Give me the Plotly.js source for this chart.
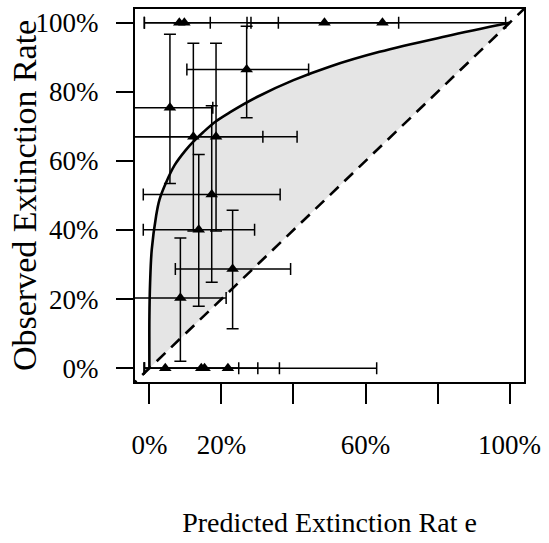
<!DOCTYPE html>
<html>
<head>
<meta charset="utf-8">
<script src="https://cdn.plot.ly/plotly-3.0.1.min.js"></script>
<style>
  html, body { margin: 0; padding: 0; background: #ffffff; }
  #chart { width: 549px; height: 543px; }
</style>
</head>
<body>
<div id="chart"></div>
<script>
// Fitted calibration curve, predicted vs observed extinction rate (percent)
const curveX = [0, 0, 0.19, 0.65, 1.85, 2.8, 4.6, 7.0, 10.2, 12.0, 15.0, 18.5, 22.2, 30, 40, 50, 63.9, 82.4, 100];
const curveY = [0, 15, 24.7, 34.3, 44.0, 48.8, 53.7, 58.8, 63.3, 65.4, 68.4, 71.5, 74.0, 78.6, 83.4, 87.3, 91.6, 96.1, 100];

// Groups: predicted rate with its interval, observed rate with its interval (percent)
const predicted   = [8.3, 9.7, 48.6, 64.7, 4.4, 14.4, 15.3, 21.8, 5.7, 12.2, 18.5, 27.0, 17.3, 13.7, 23.1, 8.6];
const predictedLo = [-1.4, -1.4, 27.1, 28.2, -1.4, -1.4, -1.4, -1.4, -8, -8, -8, 10.4, -1.7, -1.7, 7.2, -8];
const predictedHi = [16.9, 35.8, 69.2, 98.9, 24.8, 30.1, 36.1, 63.1, 17.6, 31.5, 41.0, 44.2, 36.3, 29.2, 39.2, 21.3];
const observed    = [100, 100, 100, 100, 0, 0, 0, 0, 75.4, 67.0, 67.0, 86.5, 50.3, 40.1, 28.7, 20.3];
const observedLo  = [100, 100, 100, 100, 0, 0, 0, 0, 53.5, 39.7, 39.7, 72.5, 24.9, 17.9, 11.4, 2.0];
const observedHi  = [100, 100, 100, 100, 0, 0, 0, 0, 96.7, 94.1, 94.1, 99.0, 76.0, 61.9, 45.7, 37.7];

// Axis ticks and titles
const tickValues = [0, 20, 40, 60, 80, 100];
const xTickText = ['0%', '20%', '', '60%', '', '100%'];
const yTickText = ['0%', '20%', '40%', '60%', '80%', '100%'];
const xTitle = 'Predicted Extinction Rat e';
const yTitle = 'Observed Extinction Rate';

const serif = 'Liberation Serif, Times New Roman, serif';

const traces = [
  // base of the shaded band: the identity line between (0,0) and (100,100)
  {
    x: [0, 100], y: [0, 100],
    mode: 'lines', line: { width: 0, color: 'rgba(0,0,0,0)' },
    hoverinfo: 'skip', showlegend: false
  },
  // fitted curve, band filled down to the identity line
  {
    x: curveX, y: curveY,
    mode: 'lines', line: { color: '#000000', width: 2.6, shape: 'spline', smoothing: 1 },
    fill: 'tonexty', fillcolor: '#e5e5e5',
    hoverinfo: 'skip', showlegend: false
  },
  // identity (perfect calibration) reference line
  {
    x: [-10, 110], y: [-10, 110],
    mode: 'lines', line: { color: '#000000', width: 2.6, dash: '12px,8px' },
    hoverinfo: 'skip', showlegend: false
  },
  // grouped observations with intervals on both axes
  {
    x: predicted, y: observed,
    mode: 'markers',
    marker: { symbol: 'triangle-up', size: 11, color: '#000000' },
    error_x: {
      type: 'data', symmetric: false,
      array: predictedHi.map((v, i) => v - predicted[i]),
      arrayminus: predicted.map((v, i) => v - predictedLo[i]),
      color: '#000000', thickness: 1.5, width: 6
    },
    error_y: {
      type: 'data', symmetric: false,
      array: observedHi.map((v, i) => v - observed[i]),
      arrayminus: observed.map((v, i) => v - observedLo[i]),
      color: '#000000', thickness: 1.5, width: 6
    },
    hoverinfo: 'skip', showlegend: false
  }
];

const layout = {
  width: 549, height: 543,
  margin: { l: 135, r: 25, t: 9, b: 161, pad: 0 },
  paper_bgcolor: '#ffffff', plot_bgcolor: '#ffffff',
  showlegend: false,
  font: { family: serif, color: '#000000' },
  xaxis: {
    range: [-4, 104], fixedrange: true,
    tickvals: tickValues, ticktext: xTickText,
    ticks: 'outside', ticklen: 20, tickwidth: 2, tickcolor: '#000000',
    ticklabelstandoff: 18,
    tickfont: { family: serif, size: 27, color: '#000000' },
    showline: true, mirror: true, linewidth: 2, linecolor: '#000000',
    showgrid: false, zeroline: false,
    title: { text: xTitle, font: { family: serif, size: 28, color: '#000000' }, standoff: 53 }
  },
  yaxis: {
    range: [-4, 104], fixedrange: true,
    tickvals: tickValues, ticktext: yTickText,
    ticks: 'outside', ticklen: 17, tickwidth: 2, tickcolor: '#000000',
    ticklabelstandoff: 12,
    tickfont: { family: serif, size: 27, color: '#000000' },
    showline: true, mirror: true, linewidth: 2, linecolor: '#000000',
    showgrid: false, zeroline: false
  },
  // vertical axis title, set as rotated text left of the tick labels
  annotations: [{
    text: yTitle, textangle: -90,
    xref: 'paper', yref: 'paper', x: -0.284, y: 0.5,
    xanchor: 'center', yanchor: 'middle', showarrow: false,
    font: { family: serif, size: 34, color: '#000000' }
  }]
};

Plotly.newPlot('chart', traces, layout, { displayModeBar: false, staticPlot: true });
</script>
</body>
</html>
